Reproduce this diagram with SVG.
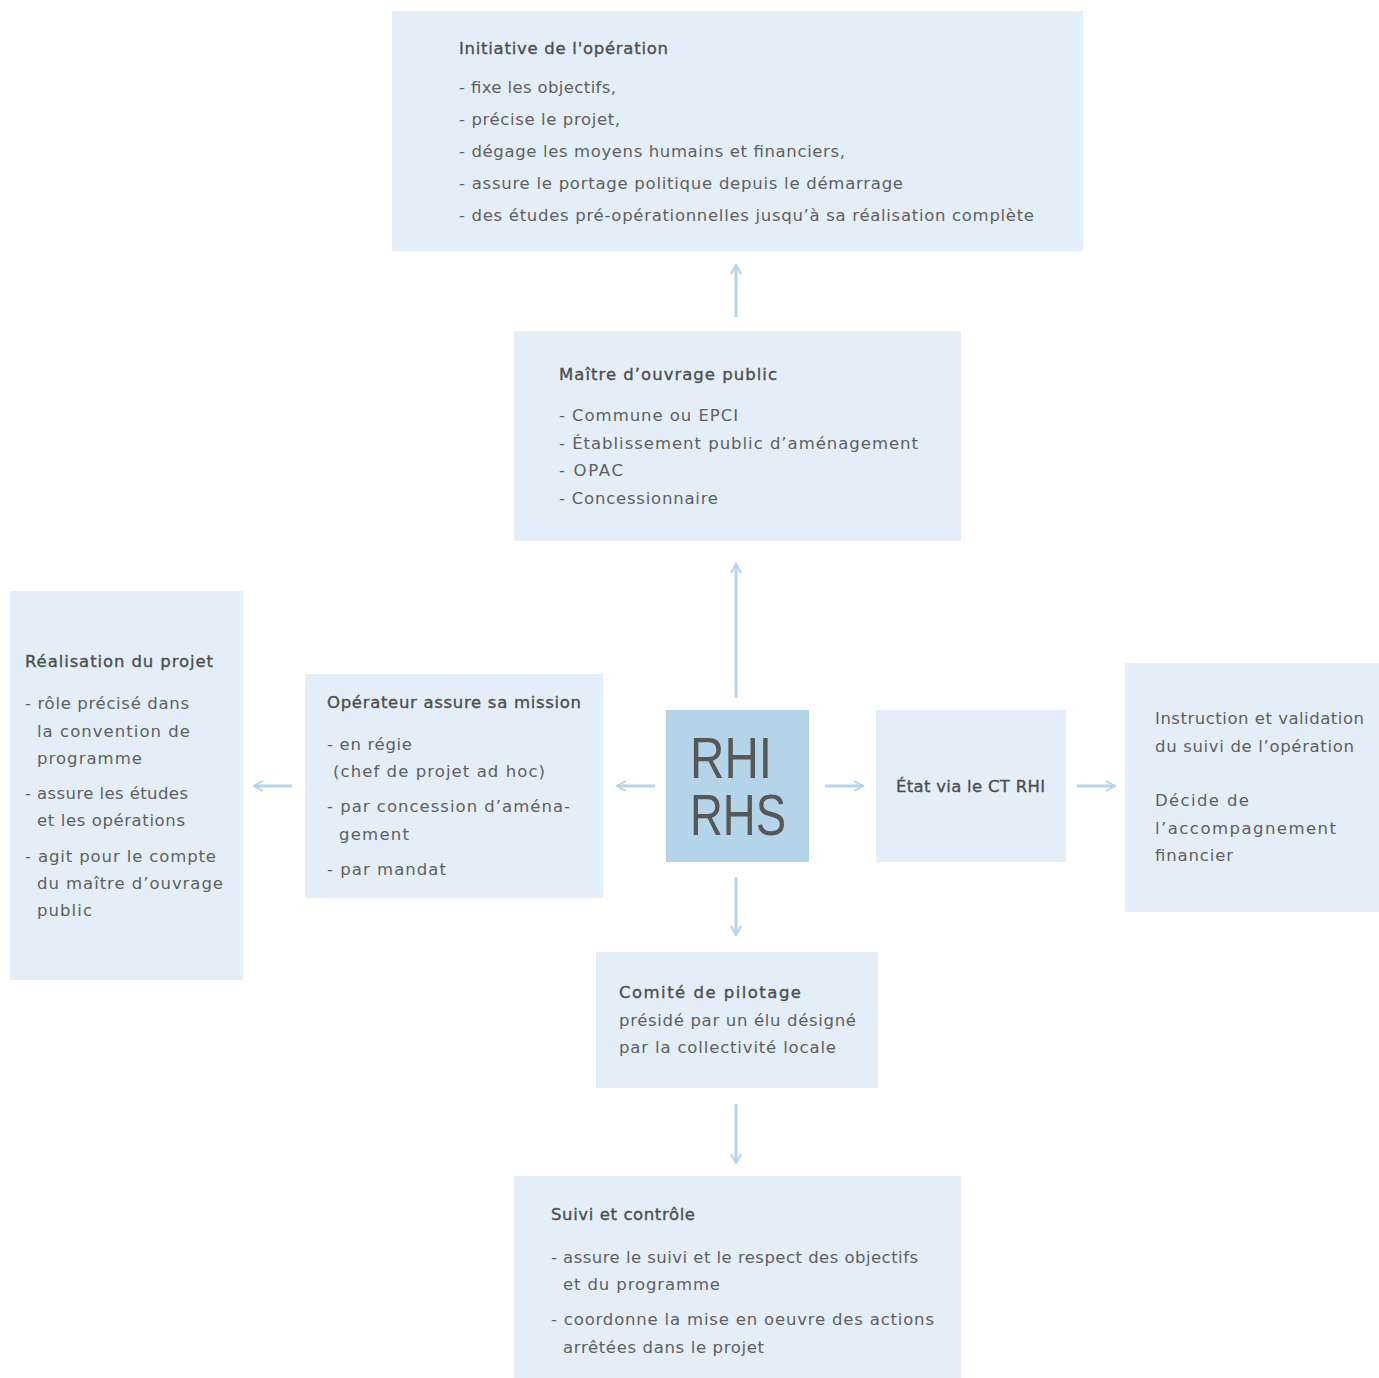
<svg xmlns="http://www.w3.org/2000/svg" width="1379" height="1378" viewBox="0 0 1379 1378">
  <defs>
    <marker id="chev" viewBox="0 0 12 12" refX="10" refY="6" markerWidth="12" markerHeight="12" markerUnits="userSpaceOnUse" orient="auto">
      <path d="M1,1 L10,6 L1,11" fill="none" stroke="#b5d5ec" stroke-width="2"/>
    </marker>
    <style>
      .box { fill: #e3eef8; }
      .core { fill: #b4d4ea; }
      text { font-family: "DejaVu Sans", "Liberation Sans", sans-serif; font-size: 16.5px; fill: #606060; }
      .t { fill: #4e4e4e; stroke: #4e4e4e; stroke-width: 0.35px; }
      .big { font-family: "Liberation Sans", Arial, sans-serif; font-size: 57px; fill: #575757; }
      .link { stroke: #b5d5ec; stroke-width: 3; fill: none; marker-end: url(#chev); }
    </style>
  </defs>

  <rect width="1379" height="1378" fill="#ffffff"/>

  <g id="initiative">
    <rect class="box" x="392" y="11" width="691" height="240"/>
    <text class="t" x="459" y="54" textLength="209">Initiative de l'opération</text>
    <text x="459" y="93" textLength="157">- fixe les objectifs,</text>
    <text x="459" y="125" textLength="161">- précise le projet,</text>
    <text x="459" y="157" textLength="386">- dégage les moyens humains et financiers,</text>
    <text x="459" y="189" textLength="444">- assure le portage politique depuis le démarrage</text>
    <text x="459" y="221" textLength="575">- des études pré-opérationnelles jusqu’à sa réalisation complète</text>
  </g>

  <g id="maitre">
    <rect class="box" x="514" y="331" width="447" height="210"/>
    <text class="t" x="559" y="380" textLength="218">Maître d’ouvrage public</text>
    <text x="559" y="421" textLength="179">- Commune ou EPCI</text>
    <text x="559" y="449" textLength="359">- Établissement public  d’aménagement</text>
    <text x="559" y="476" textLength="64">- OPAC</text>
    <text x="559" y="504" textLength="159">- Concessionnaire</text>
  </g>

  <g id="realisation">
    <rect class="box" x="10" y="591" width="233" height="389"/>
    <text class="t" x="25" y="667" textLength="188">Réalisation du projet</text>
    <text x="25" y="709" textLength="164">- rôle précisé dans</text>
    <text x="37" y="737" textLength="153">la convention de</text>
    <text x="37" y="764" textLength="105">programme</text>
    <text x="25" y="799" textLength="163">- assure les études</text>
    <text x="37" y="826" textLength="148">et les opérations</text>
    <text x="25" y="862" textLength="191">- agit pour le compte</text>
    <text x="37" y="889" textLength="186">du maître d’ouvrage</text>
    <text x="37" y="916" textLength="55">public</text>
  </g>

  <g id="operateur">
    <rect class="box" x="305" y="674" width="298" height="224"/>
    <text class="t" x="327" y="708" textLength="254">Opérateur assure sa mission</text>
    <text x="327" y="750" textLength="85">- en régie</text>
    <text x="333" y="777" textLength="212">(chef de projet ad hoc)</text>
    <text x="327" y="812" textLength="243">- par concession d’aména-</text>
    <text x="339" y="840" textLength="70">gement</text>
    <text x="327" y="875" textLength="119">- par mandat</text>
  </g>

  <g id="rhi">
    <rect class="core" x="666" y="710" width="143" height="152"/>
    <text class="big" x="690" y="778" textLength="82" lengthAdjust="spacingAndGlyphs">RHI</text>
    <text class="big" x="690" y="835" textLength="96" lengthAdjust="spacingAndGlyphs">RHS</text>
  </g>

  <g id="etat">
    <rect class="box" x="876" y="710" width="190" height="152"/>
    <text class="t" x="896" y="792" textLength="149">État via le CT RHI</text>
  </g>

  <g id="instruction">
    <rect class="box" x="1125" y="663" width="254" height="249"/>
    <text x="1155" y="724" textLength="209">Instruction et validation</text>
    <text x="1155" y="752" textLength="199">du suivi de l’opération</text>
    <text x="1155" y="806" textLength="94">Décide de</text>
    <text x="1155" y="834" textLength="181">l’accompagnement</text>
    <text x="1155" y="861" textLength="78">financier</text>
  </g>

  <g id="comite">
    <rect class="box" x="596" y="952" width="282" height="136"/>
    <text class="t" x="619" y="998" textLength="182">Comité  de pilotage</text>
    <text x="619" y="1026" textLength="237">présidé par un élu désigné</text>
    <text x="619" y="1053" textLength="217">par la collectivité locale</text>
  </g>

  <g id="suivi">
    <rect class="box" x="514" y="1176" width="447" height="202"/>
    <text class="t" x="551" y="1220" textLength="144">Suivi et contrôle</text>
    <text x="551" y="1263" textLength="367">- assure le suivi et le respect des objectifs</text>
    <text x="563" y="1290" textLength="157">et du programme</text>
    <text x="551" y="1325" textLength="383">- coordonne la mise en oeuvre des actions</text>
    <text x="563" y="1353" textLength="201">arrêtées dans le projet</text>
  </g>

  <g id="connectors">
    <line class="link" x1="736" y1="317" x2="736" y2="265"/>
    <line class="link" x1="736" y1="698" x2="736" y2="564"/>
    <line class="link" x1="292" y1="786" x2="254" y2="786"/>
    <line class="link" x1="655" y1="786" x2="617" y2="786"/>
    <line class="link" x1="825" y1="786" x2="863" y2="786"/>
    <line class="link" x1="1077" y1="786" x2="1115" y2="786"/>
    <line class="link" x1="736" y1="877" x2="736" y2="935"/>
    <line class="link" x1="736" y1="1104" x2="736" y2="1163"/>
  </g>
</svg>
